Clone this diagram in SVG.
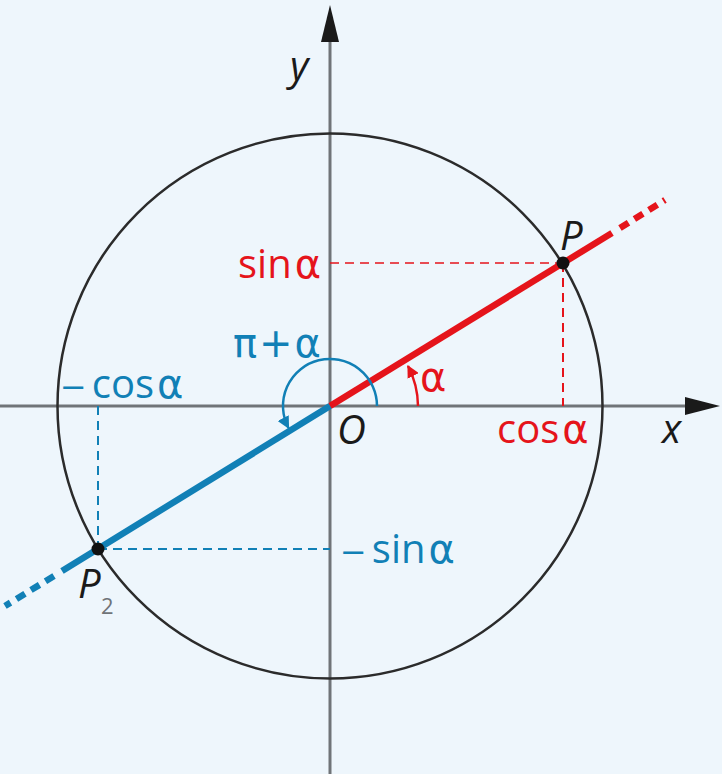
<svg xmlns="http://www.w3.org/2000/svg" width="722" height="774" viewBox="0 0 722 774">
<style>
.t{font-family:"Open Sans","Noto Sans",sans-serif;font-size:40px}
.g{font-family:"DejaVu Sans",sans-serif}
.i{font-style:italic;fill:#1a1a1a}
.red{fill:#e5141b}
.blue{fill:#1180b6}
.axis{stroke:#707478;stroke-width:3;fill:none}
</style>
<defs>
<marker id="ab" viewBox="0 0 10 10" refX="9" refY="5" markerWidth="5" markerHeight="5" orient="auto" markerUnits="strokeWidth">
<path d="M0,0 L10,5 L0,10 Z" fill="#1180b6"/>
</marker>
<marker id="ar" viewBox="0 0 10 10" refX="9" refY="5" markerWidth="5" markerHeight="5" orient="auto" markerUnits="strokeWidth">
<path d="M0,0 L10,5 L0,10 Z" fill="#e5141b"/>
</marker>
</defs>
<rect width="722" height="774" fill="#eef6fc"/>
<g id="axes">
<line class="axis" x1="0" y1="406" x2="690" y2="406"/>
<polygon points="685,397 720,406 685,415" fill="#1a1a1a"/>
<line class="axis" x1="330" y1="774" x2="330" y2="38"/>
<polygon points="321,42 330,5 339,42" fill="#1a1a1a"/>
</g>
<g id="circle">
<circle cx="330" cy="406" r="272.5" fill="none" stroke="#2b2b2b" stroke-width="2.5"/>
</g>
<g id="connectors">
<line x1="330" y1="263" x2="563" y2="263" stroke="#e5141b" stroke-width="2" stroke-dasharray="9 6" opacity="0.75"/>
<line x1="563" y1="263" x2="563" y2="406" stroke="#e5141b" stroke-width="2" stroke-dasharray="9 6"/>
<line x1="98" y1="406" x2="98" y2="549" stroke="#1180b6" stroke-width="2" stroke-dasharray="9 6"/>
<line x1="98" y1="549" x2="330" y2="549" stroke="#1180b6" stroke-width="2" stroke-dasharray="9 6"/>
<line x1="330" y1="406" x2="612" y2="233" stroke="#e5141b" stroke-width="6.5"/>
<line x1="620" y1="228" x2="665" y2="200" stroke="#e5141b" stroke-width="6.5" stroke-dasharray="10 7"/>
<line x1="330" y1="406" x2="62" y2="571" stroke="#1180b6" stroke-width="6.5"/>
<line x1="54" y1="576" x2="5" y2="606" stroke="#1180b6" stroke-width="6.5" stroke-dasharray="10 7"/>
<path d="M377,406 A47,47 0 1 0 288.5,428" fill="none" stroke="#1180b6" stroke-width="2.5" marker-end="url(#ab)"/>
<path d="M418,406 A88,88 0 0 0 408,366" fill="none" stroke="#e5141b" stroke-width="2.5" marker-end="url(#ar)"/>
</g>
<g id="P">
<circle cx="563" cy="263" r="6.5" fill="#111"/>
<text class="t i" x="560" y="250">P</text>
</g>
<g id="P2">
<circle cx="98" cy="549" r="6.5" fill="#111"/>
<text class="t i" x="78" y="598">P</text>
<text class="t" x="101" y="614" style="font-size:22px;fill:#707478">2</text>
</g>
<g id="O">
<text class="t i" x="337" y="444">O</text>
</g>
<g id="labels">
<text class="t i" x="290" y="80">y</text>
<text class="t i" x="662" y="443">x</text>
<text class="t red" x="238" y="278">sin<tspan class="g" dx="3">α</tspan></text>
<text class="t red" x="497" y="443">cos<tspan class="g" dx="3">α</tspan></text>
<text class="t red g" x="420" y="391">α</text>
<text class="t blue g" x="233" y="357">π<tspan dx="2">+</tspan><tspan dx="2">α</tspan></text>
<text class="t blue" x="60" y="398"><tspan class="g" style="font-size:32px">−</tspan><tspan dx="5">cos</tspan><tspan class="g" dx="3">α</tspan></text>
<text class="t blue" x="340" y="563"><tspan class="g" style="font-size:32px">−</tspan><tspan dx="5">sin</tspan><tspan class="g" dx="3">α</tspan></text>
</g>
</svg>
